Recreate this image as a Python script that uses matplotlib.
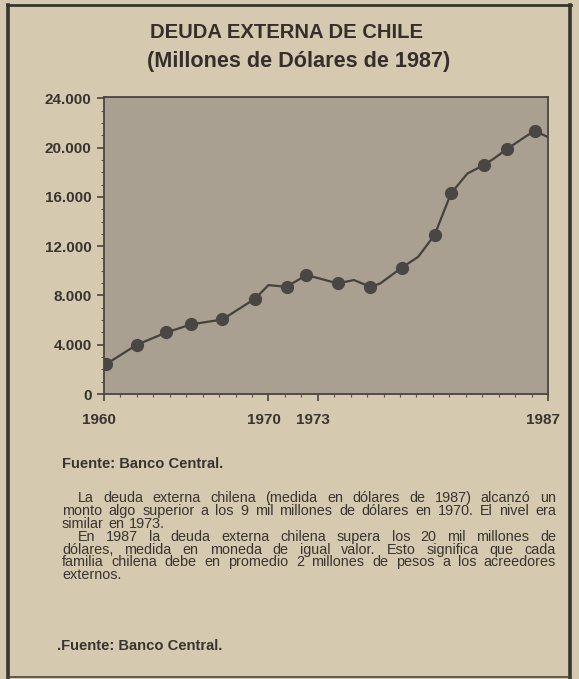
# deuda_externa_chile.py
# Recreate newspaper chart: Deuda externa de Chile (millones de dólares de 1987)

import matplotlib
matplotlib.use("Agg")
import matplotlib.pyplot as plt
from matplotlib.lines import Line2D
from matplotlib.ticker import FixedLocator, MultipleLocator
from matplotlib.transforms import ScaledTranslation

# ====== data ======
# markers on the curve (year, millions of 1987 USD)
marker_years = [1960.1, 1962.0, 1963.8, 1965.3, 1967.2, 1969.2, 1971.1, 1972.3,
                1974.2, 1976.2, 1978.1, 1980.1, 1981.1, 1983.1, 1984.5, 1986.2]
marker_vals  = [2400, 4000, 5000, 5650, 6050, 7750, 8700, 9650,
                8980, 8700, 10250, 12900, 16280, 18580, 19880, 21360]

# vertices of the drawn line (includes the bends between markers)
line_years = [1960.0, 1960.1, 1962.0, 1963.8, 1965.3, 1967.2, 1969.2, 1970.0,
              1971.1, 1972.3, 1973.1, 1974.2, 1975.2, 1976.2, 1976.8, 1978.1,
              1979.1, 1980.1, 1981.1, 1982.1, 1983.1, 1983.7, 1984.5, 1985.6,
              1986.2, 1987.0]
line_vals  = [2350, 2400, 4000, 5000, 5650, 6050, 7750, 8840,
              8700, 9650, 9380, 8980, 9250, 8700, 8975, 10250,
              11130, 12900, 16280, 17900, 18580, 19100, 19880, 20870,
              21360, 20850]

y_ticks  = [0, 4000, 8000, 12000, 16000, 20000, 24000]
y_labels = ["0", "4.000", "8.000", "12.000", "16.000", "20.000", "24.000"]
x_ticks  = [1960, 1970, 1973, 1987]

title    = "DEUDA EXTERNA DE CHILE"
subtitle = "(Millones de Dólares de 1987)"
fuente   = "Fuente: Banco Central."
para1 = ["La deuda externa chilena (medida en dólares de 1987) alcanzó un",
         "monto algo superior a los 9 mil millones de dólares en 1970. El nivel era",
         "similar en 1973."]
para2 = ["En 1987 la deuda externa chilena supera los 20 mil millones de",
         "dólares, medida en moneda de igual valor. Esto significa que cada",
         "familia chilena debe en promedio 2 millones de pesos a los acreedores",
         "externos."]

# ====== style ======
PAPER = "#d5cab0"
PLOTBG = "#a9a092"
INK = "#3a3430"
plt.rcParams["font.family"] = ["Liberation Sans", "DejaVu Sans"]

W, H = 579, 679
fig = plt.figure(figsize=(W / 100, H / 100), dpi=100, facecolor=PAPER)

def fx(px):  # pixel x -> figure fraction
    return px / W

def fy(py):  # pixel y from top -> figure fraction
    return 1 - py / H

# plot area
ax = fig.add_axes([fx(104), fy(394), fx(548) - fx(104), fy(96.5) - fy(394)])
ax.set_facecolor(PLOTBG)
ax.plot(line_years, line_vals, color="#45413d", lw=1.6, zorder=3)
ax.plot(marker_years, marker_vals, "o", color="#4a4643", ms=8.5, zorder=4)

ax.set_xlim(1960, 1987)
ax.set_ylim(0, 24150)
ax.xaxis.set_major_locator(FixedLocator(x_ticks))
ax.xaxis.set_minor_locator(MultipleLocator(1))
ax.yaxis.set_major_locator(FixedLocator(y_ticks))
ax.yaxis.set_minor_locator(MultipleLocator(1000))
ax.set_yticklabels(y_labels)
ax.set_xticklabels([str(v) for v in x_ticks])

for s in ax.spines.values():
    s.set_color("#4a4540")
    s.set_linewidth(1.3)
ax.tick_params(axis="both", which="major", direction="out", length=5, width=1.2,
               color="#4a4540", labelcolor=INK)
ax.tick_params(axis="both", which="minor", direction="out", length=2.5, width=0.8,
               color="#5a5550")
ax.tick_params(axis="y", which="major", pad=4)
ax.tick_params(axis="x", which="major", pad=9)
for lab in ax.get_yticklabels() + ax.get_xticklabels():
    lab.set_fontweight("bold")
    lab.set_fontsize(11)
# year labels sit a little left of their ticks in the print
shift = ScaledTranslation(-0.05, 0, fig.dpi_scale_trans)
for lab in ax.get_xticklabels():
    lab.set_transform(lab.get_transform() + shift)

# titles
fig.text(fx(286), fy(33), title, ha="center", va="center", fontsize=14.6,
         fontweight="heavy", color="#362e2a")
fig.text(fx(299), fy(61), subtitle, ha="center", va="center", fontsize=15.6,
         fontweight="heavy", color="#362e2a")

fig.text(fx(62), fy(464), fuente, ha="left", va="center", fontsize=10.6,
         fontweight="bold", color=INK)
fig.text(fx(57), fy(646), "." + fuente, ha="left", va="center", fontsize=10.6,
         fontweight="bold", color=INK)

# justified body text
renderer = fig.canvas.get_renderer()

def put_line(text, x0, x1, y, justify):
    words = text.split(" ")
    arts = [fig.text(0, fy(y), w, ha="left", va="center", fontsize=10.4, color=INK)
            for w in words]
    widths = [a.get_window_extent(renderer).width for a in arts]
    if justify and len(words) > 1:
        gap = (x1 - x0 - sum(widths)) / (len(words) - 1)
    else:
        gap = 4.5
    x = x0
    for a, w in zip(arts, widths):
        a.set_x(fx(x))
        x += w + gap

y = 498
for para in (para1, para2):
    for i, line in enumerate(para):
        x0 = 78 if i == 0 else 62
        put_line(line, x0, 556, y, justify=(i < len(para) - 1))
        y += 12.9

# newspaper box border
fig.add_artist(Line2D([fx(8), fx(8)], [fy(5), fy(679)], color="#3a3430", lw=2.6))
fig.add_artist(Line2D([fx(570), fx(570)], [fy(5), fy(679)], color="#3a3430", lw=2.6))
fig.add_artist(Line2D([fx(7), fx(571)], [fy(5), fy(5)], color="#3a3430", lw=2.0))
fig.add_artist(Line2D([fx(7), fx(571)], [fy(677), fy(677)], color="#4a4440", lw=1.2))

fig.savefig("out.png", dpi=100, facecolor=PAPER)
